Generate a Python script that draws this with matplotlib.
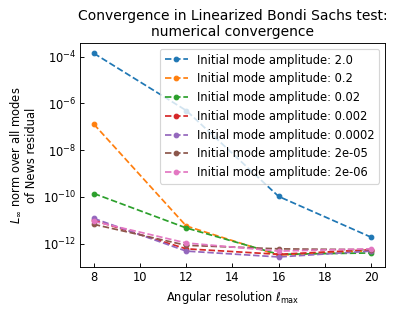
import matplotlib
matplotlib.use("Agg")
import matplotlib.pyplot as plt
from matplotlib.ticker import NullLocator

l_max = [8, 12, 16, 20]
amplitudes = ["2.0", "0.2", "0.02", "0.002", "0.0002", "2e-05", "2e-06"]

# L_inf residuals, one row per amplitude
residuals = [
    [1.4e-4, 5.0e-7, 1.05e-10, 1.9e-12],
    [1.3e-7, 5.7e-12, 3.2e-13, 5.0e-13],
    [1.4e-10, 4.7e-12, 3.5e-13, 4.0e-13],
    [1.0e-11, 6.0e-13, 3.5e-13, 5.5e-13],
    [1.2e-11, 4.8e-13, 2.7e-13, 4.8e-13],
    [6.7e-12, 8.5e-13, 6.0e-13, 5.5e-13],
    [9.0e-12, 1.07e-12, 4.8e-13, 6.0e-13],
]

dpi = 83
fig = plt.figure(figsize=(398 / dpi, 315 / dpi), dpi=dpi)
ax = fig.add_axes([0.201, 0.152, 0.766, 0.711])

for amp, res in zip(amplitudes, residuals):
    ax.plot(l_max, res, "o--", markersize=4,
            label=f"Initial mode amplitude: {amp}")

ax.set_yscale("log")
ax.yaxis.set_minor_locator(NullLocator())
ax.tick_params(direction="in")
ax.set_xlabel(r"Angular resolution $\ell_{\rm max}$")
ax.set_ylabel("$L_\\infty$ norm over all modes\nof News residual")
ax.set_title("Convergence in Linearized Bondi Sachs test:\nnumerical convergence", fontsize=12)
ax.legend(loc="upper right")

fig.savefig("out.png", dpi=dpi)
